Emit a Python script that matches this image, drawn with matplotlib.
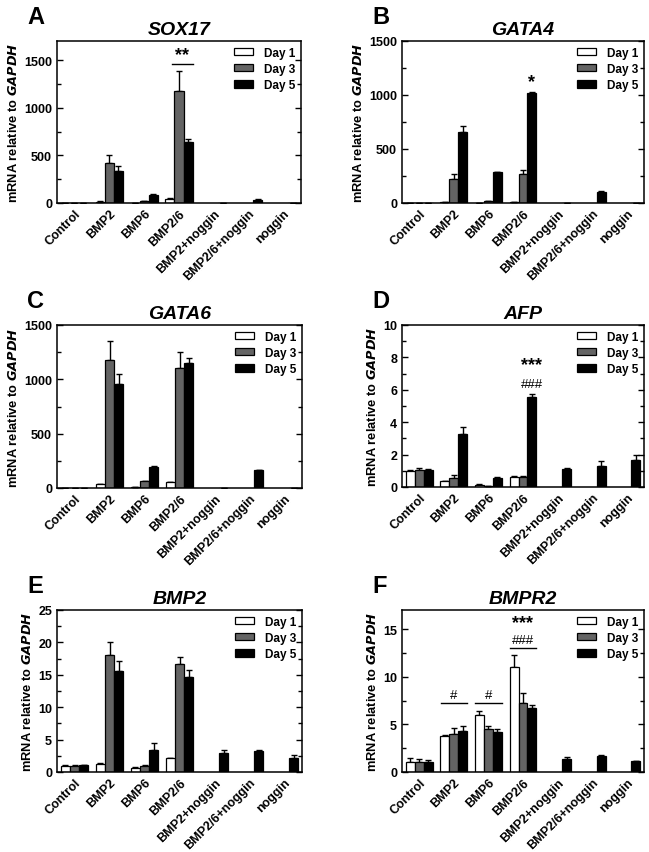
import numpy as np
import matplotlib
matplotlib.use('Agg')
from matplotlib import pyplot as plt
from matplotlib.ticker import MultipleLocator

plt.rcParams['font.family'] = ['Liberation Sans', 'DejaVu Sans']
plt.rcParams['font.weight'] = 'bold'

groups = ['Control', 'BMP2', 'BMP6', 'BMP2/6', 'BMP2+noggin', 'BMP2/6+noggin', 'noggin']
days = ['Day 1', 'Day 3', 'Day 5']
day_colors = ['white', '#646464', 'black']

# rows: Day 1, Day 3, Day 5 ; None = not measured
sox17_mean = [[2, 14, 3, 45, None, None, None],
              [2, 421, 21, 1178, None, None, None],
              [3, 334, 89, 638, 3, 33, 4]]
sox17_err = [[0, 3, 0, 3, 0, 0, 0],
             [0, 86, 4, 210, 0, 0, 0],
             [0, 52, 7, 37, 0, 4, 0]]

gata4_mean = [[1, 9, 3, 8, None, None, None],
              [1, 226, 20, 269, None, None, None],
              [1, 659, 285, 1015, 2, 105, 2]]
gata4_err = [[0, 1, 0, 1, 0, 0, 0],
             [0, 43, 3, 41, 0, 0, 0],
             [0, 53, 5, 16, 0, 9, 0]]

gata6_mean = [[2, 37, 9, 55, None, None, None],
              [2, 1176, 61, 1108, None, None, None],
              [3, 961, 190, 1151, 2, 162, 4]]
gata6_err = [[0, 4, 0, 4, 0, 0, 0],
             [0, 174, 6, 147, 0, 0, 0],
             [0, 89, 9, 43, 0, 6, 0]]

afp_mean = [[1.0, 0.35, 0.15, 0.62, None, None, None],
            [1.02, 0.54, 0.08, 0.64, None, None, None],
            [1.04, 3.26, 0.58, 5.53, 1.12, 1.29, 1.66]]
afp_err = [[0.04, 0.03, 0.02, 0.05, 0, 0, 0],
           [0.16, 0.19, 0.01, 0.06, 0, 0, 0],
           [0.05, 0.43, 0.04, 0.22, 0.08, 0.31, 0.31]]

bmp2_mean = [[1.0, 1.28, 0.66, 2.09, None, None, None],
             [1.0, 18.1, 0.97, 16.7, None, None, None],
             [1.05, 15.6, 3.47, 14.7, 2.86, 3.27, 2.14]]
bmp2_err = [[0.03, 0.07, 0.05, 0.05, 0, 0, 0],
            [0.03, 2.0, 0.05, 1.0, 0, 0, 0],
            [0.03, 1.5, 0.97, 1.0, 0.51, 0.1, 0.51]]

bmpr2_mean = [[1.04, 3.75, 5.94, 11.0, None, None, None],
              [1.0, 3.96, 4.51, 7.27, None, None, None],
              [1.08, 4.27, 4.2, 6.75, 1.39, 1.63, 1.11]]
bmpr2_err = [[0.45, 0.17, 0.41, 1.3, 0, 0, 0],
             [0.32, 0.62, 0.35, 1.05, 0, 0, 0],
             [0.2, 0.59, 0.31, 0.28, 0.21, 0.14, 0.03]]

panels = [('A', 'SOX17', sox17_mean, sox17_err, 1700, 500),
          ('B', 'GATA4', gata4_mean, gata4_err, 1500, 500),
          ('C', 'GATA6', gata6_mean, gata6_err, 1500, 500),
          ('D', 'AFP', afp_mean, afp_err, 10, 2),
          ('E', 'BMP2', bmp2_mean, bmp2_err, 25, 5),
          ('F', 'BMPR2', bmpr2_mean, bmpr2_err, 17, 5)]

# axes boxes in pixels: left, top, right, bottom
W, H = 649, 853
boxes = [(57, 42, 301, 204), (402, 42, 644, 204),
         (57, 326, 302, 489), (402, 326, 644, 488),
         (57, 611, 302, 773), (402, 611, 644, 773)]

fig = plt.figure(figsize=(W / 100, H / 100), dpi=100)

bw = 0.26
x = np.arange(len(groups)) + 0.5
axes = {}
for (letter, gene, mean, err, ymax, major), (l, t, r, b) in zip(panels, boxes):
    ax = fig.add_axes([l / W, 1 - b / H, (r - l) / W, (b - t) / H])
    axes[letter] = ax
    for k in range(3):
        m = np.array([np.nan if v is None else v for v in mean[k]], dtype=float)
        e = np.array(err[k], dtype=float)
        ok = ~np.isnan(m)
        xs = x[ok] + (k - 1) * bw
        ax.bar(xs, m[ok], bw, color=day_colors[k], edgecolor='black', linewidth=0.9,
               label=days[k], zorder=2)
        ax.errorbar(xs, m[ok], yerr=[np.zeros(ok.sum()), e[ok]], fmt='none',
                    ecolor='black', elinewidth=1.0, capsize=2.5, capthick=1.0, zorder=1)
    ax.set_xlim(0, 7)
    ax.set_ylim(0, ymax)
    ax.yaxis.set_major_locator(MultipleLocator(major))
    ax.yaxis.set_minor_locator(MultipleLocator(major / 2))
    ax.tick_params(axis='y', which='both', direction='in', right=True, labelsize=9, width=1)
    ax.tick_params(axis='y', which='major', length=4)
    ax.tick_params(axis='y', which='minor', length=3)
    ax.tick_params(axis='x', length=0, pad=3)
    ax.set_xticks(x)
    ax.set_xticklabels(groups, rotation=45, ha='right', va='top', rotation_mode='anchor',
                       fontsize=9, fontweight='bold')
    for s in ax.spines.values():
        s.set_linewidth(1.1)
    ax.set_ylabel('mRNA relative to $\\bf{\\it{GAPDH}}$', fontsize=9.3, fontweight='bold', labelpad=3)
    ax.set_title(gene, fontsize=14, fontweight='bold', style='italic', pad=5)
    ax.legend(loc='upper right', frameon=False, fontsize=8.5, handlelength=1.6, handleheight=0.55,
              handletextpad=0.9, labelspacing=0.35, borderaxespad=0.3, borderpad=0.2)
    fig.text((l - 30) / W, 1 - (t - 36) / H, letter, fontsize=17, fontweight='bold',
             va='top', ha='left')

# significance marks
ax = axes['A']
ax.plot([3.5 - 0.2, 3.5 + 0.39], [1455, 1455], color='black', lw=1)
ax.text(3.6, 1470, '**', ha='center', va='bottom', fontsize=13, fontweight='bold')

ax = axes['B']
ax.text(3.76, 1050, '*', ha='center', va='bottom', fontsize=13, fontweight='bold')

ax = axes['D']
ax.text(3.76, 7.05, '***', ha='center', va='bottom', fontsize=13, fontweight='bold')
ax.text(3.76, 6.0, '###', ha='center', va='bottom', fontsize=9.5, fontweight='normal')

ax = axes['F']
for g in [1.5, 2.5]:
    ax.plot([g - 0.38, g + 0.38], [7.2, 7.2], color='black', lw=1)
    ax.text(g, 7.5, '#', ha='center', va='bottom', fontsize=9.5, fontweight='normal')
ax.plot([3.5 - 0.38, 3.5 + 0.38], [13.0, 13.0], color='black', lw=1)
ax.text(3.5, 13.2, '###', ha='center', va='bottom', fontsize=9.5, fontweight='normal')
ax.text(3.5, 14.75, '***', ha='center', va='bottom', fontsize=13, fontweight='bold')

fig.savefig('out.png', dpi=100)
